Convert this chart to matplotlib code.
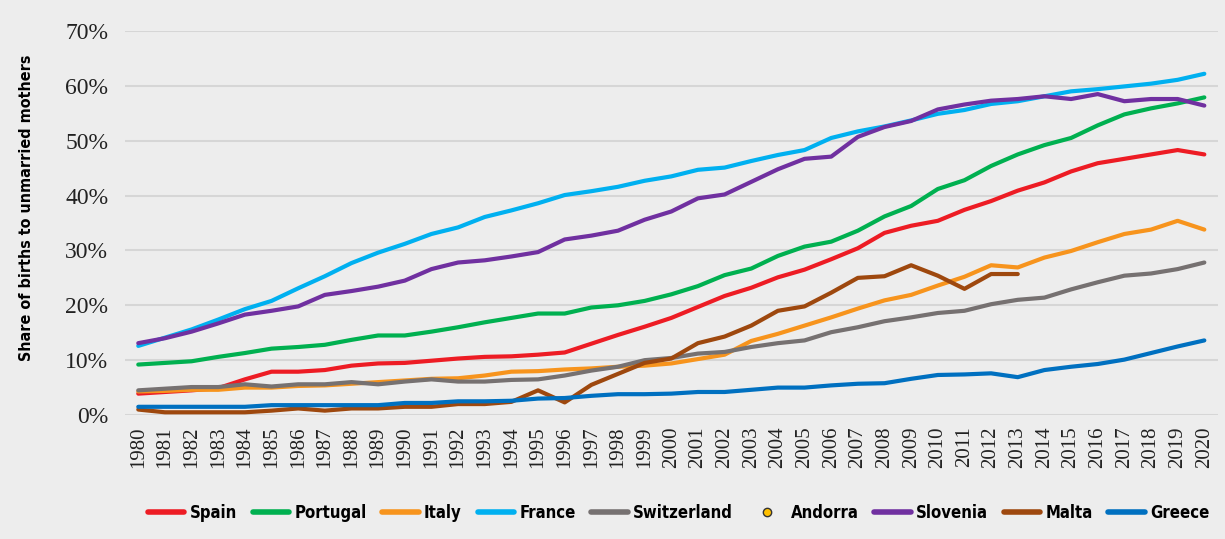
import numpy as np
import matplotlib
matplotlib.use("Agg")
import matplotlib.pyplot as plt
from matplotlib.lines import Line2D
from matplotlib import font_manager

years = list(range(1980, 2021))

spain = [3.9, 4.2, 4.5, 4.9, 6.5, 7.9, 7.9, 8.2, 9.0, 9.4, 9.5, 9.9, 10.3, 10.6, 10.7, 11.0, 11.4, 13.0, 14.6, 16.1, 17.7,
         19.7, 21.7, 23.2, 25.1, 26.5, 28.4, 30.4, 33.2, 34.5, 35.4, 37.4, 39.0, 40.9, 42.4, 44.4, 45.9, 46.7, 47.5, 48.3, 47.5]
portugal = [9.2, 9.5, 9.8, 10.6, 11.3, 12.1, 12.4, 12.8, 13.7, 14.5, 14.5, 15.2, 16.0, 16.9, 17.7, 18.5, 18.5, 19.6, 20.0, 20.8, 22.0,
            23.5, 25.5, 26.7, 29.0, 30.7, 31.6, 33.6, 36.2, 38.1, 41.2, 42.8, 45.4, 47.5, 49.2, 50.5, 52.8, 54.8, 55.9, 56.8, 57.9]
italy = [4.3, 4.4, 4.6, 4.6, 5.0, 5.0, 5.3, 5.4, 5.7, 6.0, 6.3, 6.6, 6.7, 7.2, 7.9, 8.0, 8.3, 8.5, 8.8, 9.0, 9.4,
         10.2, 11.0, 13.5, 14.8, 16.3, 17.8, 19.4, 20.9, 21.9, 23.6, 25.2, 27.3, 26.9, 28.7, 29.9, 31.5, 33.0, 33.8, 35.4, 33.8]
france = [12.6, 14.1, 15.6, 17.4, 19.3, 20.8, 23.1, 25.3, 27.7, 29.6, 31.2, 33.0, 34.2, 36.1, 37.3, 38.6, 40.1, 40.8, 41.6, 42.7, 43.5,
          44.7, 45.1, 46.3, 47.4, 48.3, 50.5, 51.7, 52.6, 53.7, 54.9, 55.6, 56.7, 57.2, 58.1, 59.0, 59.4, 59.9, 60.4, 61.1, 62.2]
switzerland = [4.5, 4.8, 5.1, 5.1, 5.6, 5.2, 5.6, 5.6, 6.0, 5.6, 6.1, 6.5, 6.1, 6.1, 6.4, 6.5, 7.2, 8.1, 8.8, 10.0, 10.4,
               11.2, 11.5, 12.4, 13.1, 13.6, 15.1, 16.0, 17.1, 17.8, 18.6, 19.0, 20.2, 21.0, 21.4, 22.9, 24.2, 25.4, 25.8, 26.6, 27.8]
andorra = [np.nan] * len(years)
slovenia = [13.1, 14.0, 15.2, 16.7, 18.3, 19.0, 19.8, 21.9, 22.6, 23.4, 24.5, 26.6, 27.8, 28.2, 28.9, 29.7, 32.0, 32.7, 33.6, 35.6, 37.1,
            39.5, 40.2, 42.5, 44.8, 46.7, 47.1, 50.7, 52.5, 53.6, 55.7, 56.6, 57.3, 57.6, 58.1, 57.6, 58.5, 57.2, 57.6, 57.6, 56.4]
malta = [1.0, 0.5, 0.5, 0.5, 0.5, 0.8, 1.2, 0.8, 1.2, 1.2, 1.5, 1.5, 2.0, 2.0, 2.4, 4.5, 2.3, 5.5, 7.5, 9.5, 10.3,
         13.1, 14.3, 16.3, 19.0, 19.8, 22.3, 25.0, 25.3, 27.3, 25.4, 23.0, 25.7, 25.7] + [np.nan] * 7
greece = [1.5, 1.5, 1.5, 1.5, 1.5, 1.8, 1.8, 1.8, 1.8, 1.8, 2.2, 2.2, 2.5, 2.5, 2.6, 3.0, 3.1, 3.5, 3.8, 3.8, 3.9,
          4.2, 4.2, 4.6, 5.0, 5.0, 5.4, 5.7, 5.8, 6.6, 7.3, 7.4, 7.6, 6.9, 8.2, 8.8, 9.3, 10.1, 11.3, 12.5, 13.6]

series = [
    ("Spain", spain, "#ED1C24"),
    ("Portugal", portugal, "#00B050"),
    ("Italy", italy, "#F7941D"),
    ("France", france, "#00B0F0"),
    ("Switzerland", switzerland, "#767171"),
    ("Andorra", andorra, "#FFC000"),
    ("Slovenia", slovenia, "#7030A0"),
    ("Malta", malta, "#9E480E"),
    ("Greece", greece, "#0070C0"),
]

bg = "#EDEDED"
serif = ["Liberation Serif", "DejaVu Serif"]

# pick a narrow bold face if one is installed
cond_prop = font_manager.FontProperties(family="DejaVu Sans", weight="bold", stretch="condensed")
for f in font_manager.fontManager.ttflist:
    if "Condensed" in f.name or "Narrow" in f.name:
        cond_prop = font_manager.FontProperties(family=f.name, weight="bold")
        break
for f in font_manager.fontManager.ttflist:
    if f.name == "DejaVu Sans" and f.stretch == "condensed" and f.weight in ("bold", 700):
        cond_prop = font_manager.FontProperties(family="DejaVu Sans", weight="bold", stretch="condensed")
        break

fig = plt.figure(figsize=(12.25, 5.39), dpi=100, facecolor=bg)
ax = fig.add_axes([0.102, 0.230, 0.892, 0.7125], facecolor=bg)

x = np.arange(len(years))
handles = []
for name, vals, color in series:
    if name == "Andorra":
        ax.plot(x, vals, color=color)
        h = Line2D([], [], linestyle="none", marker="o", markersize=6,
                   markerfacecolor=color, markeredgecolor="#333333", markeredgewidth=1)
    else:
        ax.plot(x, vals, color=color, lw=3, solid_capstyle="round",
                solid_joinstyle="round", clip_on=False)
        h = Line2D([], [], color=color, lw=4, solid_capstyle="round")
    handles.append(h)

ax.set_xlim(-0.5, len(years) - 0.5)
ax.set_ylim(0, 70)
ax.set_yticks(range(0, 71, 10))
ax.set_yticklabels([f"{v}%" for v in range(0, 71, 10)], family=serif, fontsize=17, color="#222222")
ax.set_xticks(x)
ax.set_xticklabels([str(y) for y in years], rotation=90, family=serif, fontsize=15, color="#222222")
ax.tick_params(axis="both", length=0)
ax.tick_params(axis="y", pad=12)
ax.tick_params(axis="x", pad=8)
ax.grid(axis="y", color="#D6D6D6", lw=1.5)
ax.set_axisbelow(True)
for s in ax.spines.values():
    s.set_visible(False)

ylab_prop = cond_prop.copy()
ylab_prop.set_size(11.5)
ax.set_ylabel("Share of births to unmarried mothers", fontproperties=ylab_prop)
ax.yaxis.set_label_coords(-0.083, 0.54)

leg_prop = cond_prop.copy()
leg_prop.set_size(12)
fig.legend(handles, [s[0] for s in series], loc="center", ncol=9,
           bbox_to_anchor=(0.554, 0.048), frameon=False, handlelength=2.2,
           handletextpad=0.3, columnspacing=0.95, prop=leg_prop)

fig.savefig("out.png", dpi=100, facecolor=bg)
